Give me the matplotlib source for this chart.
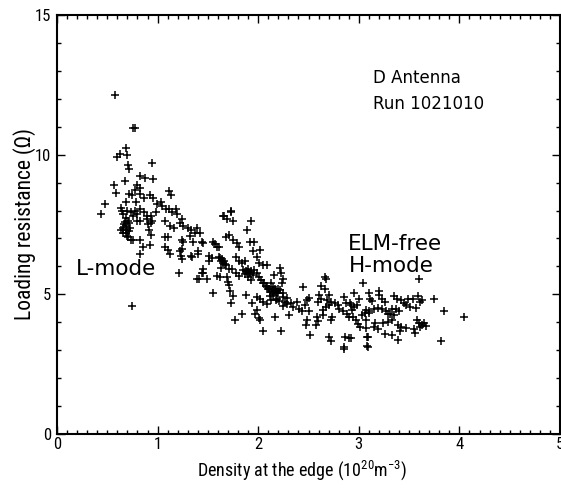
import matplotlib
matplotlib.use('Agg')
import matplotlib.pyplot as plt
from matplotlib.ticker import MultipleLocator
from matplotlib import font_manager

# narrow font for the axis text, falling back to DejaVu Sans
names = {f.name for f in font_manager.fontManager.ttflist}
narrow = 'DejaVu Sans'
for cand in ['Roboto Condensed', 'Archivo Narrow', 'Liberation Sans Narrow']:
    if cand in names:
        narrow = cand
        break

plt.rcParams['font.family'] = ['DejaVu Sans']
plt.rcParams['mathtext.fontset'] = 'custom'
plt.rcParams['mathtext.rm'] = narrow
plt.rcParams['mathtext.default'] = 'rm'

# (edge density [1e20 m^-3], loading resistance [Ohm])
lmode_pts = [
    (0.58, 12.15), (0.76, 10.96), (0.78, 10.96), (0.69, 10.25), (0.63, 10.04), (0.60, 9.9),
    (0.70, 10.0), (0.71, 9.64), (0.72, 9.5), (0.94, 9.7), (0.83, 9.25), (0.87, 9.18),
    (0.95, 9.14), (0.68, 9.07), (0.57, 8.93), (0.59, 8.64), (0.80, 8.9), (0.83, 8.8),
    (0.78, 8.75), (0.72, 8.6), (0.75, 8.57), (1.11, 8.71), (1.13, 8.54), (0.83, 8.6),
    (0.86, 8.46), (0.92, 8.54), (0.95, 8.46), (0.48, 8.25), (0.44, 7.86), (0.69, 8.32),
    (0.79, 8.32), (0.99, 8.25), (1.03, 8.29), (0.64, 8.1), (0.65, 8.0), (0.66, 7.89),
    (0.70, 8.0), (0.74, 7.96), (0.78, 8.0), (0.80, 7.86), (0.83, 8.04), (0.86, 7.96),
    (0.89, 7.82), (0.93, 7.82), (0.94, 7.61), (0.98, 7.96), (1.04, 8.18), (1.08, 8.07),
    (1.11, 8.04), (1.14, 7.96), (1.18, 8.04), (1.19, 7.89), (0.69, 7.75), (0.71, 7.64),
    (0.72, 7.54), (0.69, 7.43), (0.73, 7.36), (0.64, 7.32), (0.66, 7.39), (0.76, 7.82),
    (0.80, 7.61), (0.83, 7.64), (0.89, 7.68), (0.90, 7.5), (0.93, 7.57), (1.07, 7.64),
    (1.12, 7.46), (1.16, 7.39), (1.22, 7.57), (1.25, 7.46), (0.91, 7.32), (0.93, 7.14),
    (0.69, 7.18), (0.71, 7.04), (0.74, 6.96), (0.76, 6.93), (0.83, 6.96), (1.07, 7.04),
    (1.10, 7.04), (1.24, 6.93), (0.85, 6.71), (0.92, 6.75), (1.07, 6.68), (1.10, 6.57),
    (1.12, 6.46), (1.22, 6.54), (1.23, 6.39), (0.83, 6.46), (1.21, 5.75), (0.75, 4.6),
    (0.67, 7.5), (0.70, 7.3), (0.68, 7.6), (0.72, 7.25), (0.66, 7.2), (0.70, 7.1),
]

transition_pts = [
    (1.73, 8.0), (1.66, 7.82), (1.69, 7.71), (1.75, 7.64), (1.65, 7.79), (1.73, 7.96),
    (1.93, 7.61), (1.89, 7.29), (1.24, 7.68), (1.30, 7.39), (1.33, 7.32), (1.37, 7.21),
    (1.39, 7.39), (1.42, 7.21), (1.32, 7.1), (1.35, 6.89), (1.44, 6.89), (1.45, 6.82),
    (1.25, 6.89), (1.24, 6.61), (1.24, 6.25), (1.34, 6.32), (1.40, 6.54), (1.33, 6.36),
    (1.40, 6.46), (1.55, 6.89), (1.57, 6.79), (1.59, 6.71), (1.61, 6.68), (1.68, 7.04),
    (1.71, 7.11), (1.75, 6.93), (1.79, 6.82), (1.81, 6.68), (1.92, 6.86), (1.96, 6.89),
    (1.95, 6.54), (2.02, 6.57), (1.51, 6.39), (1.54, 6.29), (1.51, 6.21), (1.61, 6.32),
    (1.63, 6.18), (1.65, 6.11), (1.63, 5.96), (1.68, 6.04), (1.71, 5.89), (1.74, 5.89),
    (1.78, 6.32), (1.81, 6.21), (1.84, 6.11), (1.87, 6.21), (1.99, 6.32), (2.01, 6.11),
    (2.05, 6.04), (2.09, 6.04), (1.45, 5.89), (1.44, 5.75), (1.39, 5.54), (1.49, 5.54),
    (1.41, 5.54), (1.45, 5.75), (1.59, 5.64), (1.62, 5.61), (1.69, 5.61), (1.70, 5.43),
    (1.71, 5.32), (1.78, 5.75), (1.81, 5.64), (1.85, 5.86), (1.89, 5.79), (1.92, 5.75),
    (1.90, 5.61), (1.93, 5.5), (1.96, 5.86), (1.99, 5.75), (2.01, 5.61), (2.03, 5.5),
    (2.06, 5.39), (2.09, 5.25), (2.11, 5.18), (2.14, 5.11), (2.16, 5.04), (2.17, 5.18),
    (1.55, 5.04), (1.72, 5.11), (1.75, 4.93), (1.73, 4.68), (1.88, 4.96), (1.94, 4.68),
    (1.99, 4.89), (2.02, 4.82), (2.05, 4.71), (2.09, 4.64), (1.99, 4.43), (1.97, 4.29),
    (2.01, 4.14), (2.02, 4.07), (1.84, 4.29), (1.77, 4.07), (2.05, 3.68), (2.17, 4.18),
    (2.19, 4.82), (2.20, 5.04), (1.62, 6.3), (1.64, 6.25), (1.66, 6.2), (1.67, 6.08),
    (1.90, 5.9), (1.88, 5.85), (1.91, 5.78), (1.87, 5.72), (1.93, 5.82), (1.95, 5.7),
    (2.05, 5.4), (2.08, 5.3), (2.10, 5.2), (2.12, 5.08), (2.15, 4.98), (2.12, 4.95),
    (2.18, 5.1), (2.20, 5.2),
]

hmode_pts = [
    (2.22, 5.96), (2.16, 5.68), (2.23, 5.75), (2.25, 5.54), (2.24, 5.39), (2.13, 5.39),
    (2.15, 5.25), (2.17, 5.14), (2.19, 5.07), (2.22, 5.14), (2.25, 5.04), (2.25, 4.89),
    (2.13, 4.79), (2.18, 4.79), (2.21, 4.75), (2.27, 4.71), (2.29, 4.64), (2.31, 4.25),
    (2.23, 3.68), (2.45, 5.25), (2.39, 4.71), (2.41, 4.46), (2.44, 4.39), (2.47, 4.61),
    (2.49, 4.79), (2.50, 4.86), (2.50, 4.39), (2.49, 4.07), (2.48, 3.89), (2.51, 3.54),
    (2.62, 5.29), (2.66, 5.61), (2.67, 5.54), (2.60, 4.96), (2.62, 4.82), (2.59, 4.71),
    (2.66, 5.18), (2.70, 4.96), (2.68, 4.79), (2.72, 4.71), (2.70, 4.61), (2.67, 4.54),
    (2.64, 4.43), (2.64, 4.25), (2.58, 4.18), (2.57, 3.89), (2.59, 4.04), (2.73, 4.18),
    (2.72, 4.07), (2.70, 3.46), (2.72, 3.32), (2.76, 4.68), (2.79, 4.61), (2.80, 4.46),
    (2.85, 4.89), (2.87, 4.68), (2.84, 4.39), (2.88, 4.29), (2.90, 4.18), (2.91, 4.68),
    (2.92, 4.61), (2.93, 4.43), (2.95, 4.54), (2.95, 5.04), (3.00, 4.82), (2.98, 4.61),
    (3.04, 5.39), (2.86, 3.46), (2.90, 3.43), (2.92, 3.43), (2.85, 3.11), (2.94, 4.18),
    (2.97, 4.07), (2.99, 3.93), (3.01, 3.82), (3.08, 3.46), (3.08, 3.14), (3.10, 4.39),
    (3.06, 4.32), (3.03, 4.25), (3.60, 5.54), (3.20, 5.11), (3.20, 4.96), (3.23, 4.82),
    (3.26, 4.71), (3.10, 5.04), (3.11, 4.82), (3.13, 4.75), (3.35, 4.93), (3.38, 4.82),
    (3.42, 4.79), (3.45, 4.68), (3.49, 4.82), (3.54, 4.82), (3.59, 4.93), (3.47, 4.61),
    (3.51, 4.54), (3.57, 4.5), (3.61, 4.71), (3.63, 4.79), (3.75, 4.82), (3.85, 4.39),
    (4.05, 4.18), (3.82, 3.32), (3.07, 4.43), (3.10, 4.32), (3.07, 4.07), (3.07, 3.79),
    (3.15, 4.46), (3.19, 4.5), (3.23, 4.46), (3.27, 4.39), (3.29, 4.29), (3.31, 4.29),
    (3.33, 4.46), (3.37, 4.46), (3.40, 4.39), (3.35, 4.25), (3.33, 4.07), (3.29, 4.0),
    (3.24, 3.96), (3.16, 3.96), (3.15, 3.82), (3.19, 3.75), (3.39, 3.89), (3.42, 3.82),
    (3.47, 3.79), (3.41, 3.68), (3.26, 3.57), (3.33, 3.54), (3.39, 3.36), (3.09, 3.46),
    (3.55, 3.75), (3.56, 3.61), (3.58, 4.07), (3.60, 3.96), (3.63, 3.89), (3.67, 3.86),
    (3.61, 3.82), (3.65, 3.96), (3.09, 3.11), (2.85, 3.04), (2.29, 4.86), (2.35, 4.55),
    (2.33, 4.70), (2.25, 4.60),
]

x_ticks = [0, 1, 2, 3, 4, 5]
y_ticks = [0, 5, 10, 15]

fig = plt.figure(figsize=(5.61, 4.92), dpi=100)
ax = fig.add_axes([57 / 561, 1 - 434 / 492, 503 / 561, 419 / 492])

for pts in (lmode_pts, transition_pts, hmode_pts):
    xs = [p[0] for p in pts]
    ys = [p[1] for p in pts]
    ax.plot(xs, ys, linestyle='none', marker='+', color='black',
            markersize=5.5, markeredgewidth=1.1)

ax.set_xlim(0, 5)
ax.set_ylim(0, 15)
ax.set_xticks(x_ticks)
ax.set_yticks(y_ticks)
ax.xaxis.set_minor_locator(MultipleLocator(0.1))
ax.yaxis.set_minor_locator(MultipleLocator(1))
ax.tick_params(which='both', direction='in', top=True, right=True, width=1.0)
ax.tick_params(which='major', length=6)
ax.tick_params(which='minor', length=3)
ax.tick_params(axis='x', which='major', pad=2)
ax.tick_params(axis='y', which='major', pad=4)
for lab in ax.get_xticklabels() + ax.get_yticklabels():
    lab.set_fontfamily([narrow, 'DejaVu Sans'])
    lab.set_fontsize(12)
for s in ax.spines.values():
    s.set_linewidth(1.5)

ax.set_xlabel(r'Density at the edge (10$^{20}$m$^{-3}$)', fontsize=13,
              family=[narrow, 'DejaVu Sans'])
ax.xaxis.set_label_coords(0.488, -0.058, transform=ax.transAxes)
ax.xaxis.label.set_va('top')
ax.set_ylabel('Loading resistance (\u03a9)', fontsize=15.5,
              family=[narrow, 'DejaVu Sans'])
ax.yaxis.set_label_coords(-0.064, 0.5, transform=ax.transAxes)
ax.yaxis.label.set_va('center')

ax.text(3.14, 12.57, 'D Antenna', fontsize=12, ha='left', va='baseline')
ax.text(3.14, 11.64, 'Run 1021010', fontsize=12, ha='left', va='baseline')
ax.text(2.89, 6.57, 'ELM-free', fontsize=15.5, ha='left', va='baseline')
ax.text(2.90, 5.79, 'H-mode', fontsize=15.5, ha='left', va='baseline')
ax.text(0.19, 5.68, 'L-mode', fontsize=15.5, ha='left', va='baseline')

fig.savefig('out.png', dpi=100)
